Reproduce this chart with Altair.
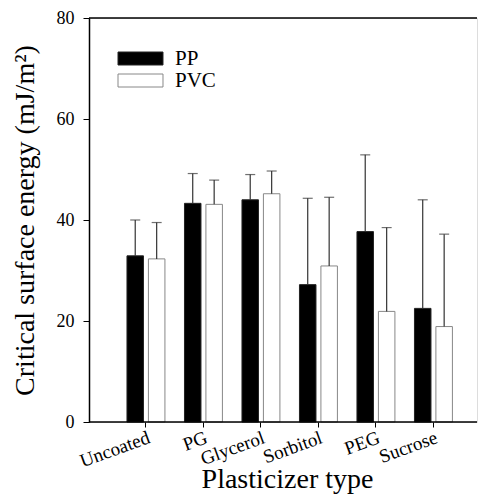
import altair as alt
import pandas as pd

categories = ["Uncoated", "PG", "Glycerol", "Sorbitol", "PEG", "Sucrose"]
series = ["PP", "PVC"]
pp_values = [32.9, 43.3, 44.0, 27.2, 37.7, 22.5]
pp_err = [7.1, 5.9, 5.0, 17.1, 15.2, 21.5]
pvc_values = [32.3, 43.1, 45.2, 30.9, 21.9, 18.9]
pvc_err = [7.2, 4.8, 4.5, 13.6, 16.6, 18.3]
y_ticks = [0, 20, 40, 60, 80]

rows = []
for i, c in enumerate(categories):
    rows.append({"cat": c, "ser": "PP", "val": pp_values[i], "up": pp_values[i] + pp_err[i]})
    rows.append({"cat": c, "ser": "PVC", "val": pvc_values[i], "up": pvc_values[i] + pvc_err[i]})
df = pd.DataFrame(rows)

W, H = 388, 404
FONT = "Liberation Serif"

x = alt.X("cat:N", sort=categories, title="Plasticizer type",
          scale=alt.Scale(paddingInner=0.34, paddingOuter=0.544, align=0.607),
          axis=alt.Axis(domain=False, labelAngle=-20, labelAlign="right", labelBaseline="top",
                        labelFont=FONT, labelFontSize=19, labelPadding=1, tickSize=5,
                        tickColor="black", titleFont=FONT, titleFontSize=28,
                        titleFontWeight="normal", titlePadding=-5, titleX=198))
xo = alt.XOffset("ser:N", sort=series, scale=alt.Scale(paddingInner=0.23, paddingOuter=0))
y = alt.Y("val:Q", title="Critical surface energy (mJ/m²)",
          scale=alt.Scale(domain=[0, 80], nice=False),
          axis=alt.Axis(values=y_ticks, grid=False, tickSize=6, tickColor="black",
                        domainColor="black", domainWidth=1.5, labelFont=FONT, labelFontSize=18,
                        labelPadding=9, titleFont=FONT, titleFontSize=28,
                        titleFontWeight="normal", titlePadding=17))

legend = alt.Legend(title=None, orient="none", legendX=25, legendY=30,
                    symbolType="M-3.46,-1H3.46V1H-3.46Z", symbolSize=169,
                    symbolOffset=16, labelOffset=24, labelFont=FONT, labelFontSize=21,
                    rowPadding=0, symbolStrokeWidth=1)

base = alt.Chart(df)

bars = base.mark_bar(strokeWidth=1).encode(
    x=x, xOffset=xo, y=y,
    fill=alt.Fill("ser:N", sort=series, scale=alt.Scale(domain=series, range=["black", "white"]),
                  legend=legend),
    stroke=alt.Stroke("ser:N", sort=series, scale=alt.Scale(domain=series, range=["#222", "#888"]),
                      legend=legend),
)

err = base.mark_rule(color="#333", strokeWidth=1.2).encode(
    x=x, xOffset=xo, y="val:Q", y2="up:Q")
caps = base.mark_tick(color="#333", thickness=1.2, size=10).encode(
    x=x, xOffset=xo, y="up:Q")

frame_df = pd.DataFrame({"a": [0]})
top_line = alt.Chart(frame_df).mark_rule(color="black", strokeWidth=1.5).encode(
    x=alt.value(0), x2=alt.value(W), y=alt.value(0))
bottom_line = alt.Chart(frame_df).mark_rule(color="black", strokeWidth=1.5).encode(
    x=alt.value(0), x2=alt.value(W), y=alt.value(H))

chart = alt.layer(bars, err, caps, top_line, bottom_line).properties(
    width=W, height=H, padding={"left": 3, "top": 1, "right": 0, "bottom": 0}
).configure_view(stroke=None).configure(font=FONT).configure_axis(
    labelFont=FONT, titleFont=FONT, labelColor="black", titleColor="black"
).configure_legend(labelFont=FONT, labelColor="black")

chart.save("out.html", embed_options={"renderer": "svg", "actions": False})
